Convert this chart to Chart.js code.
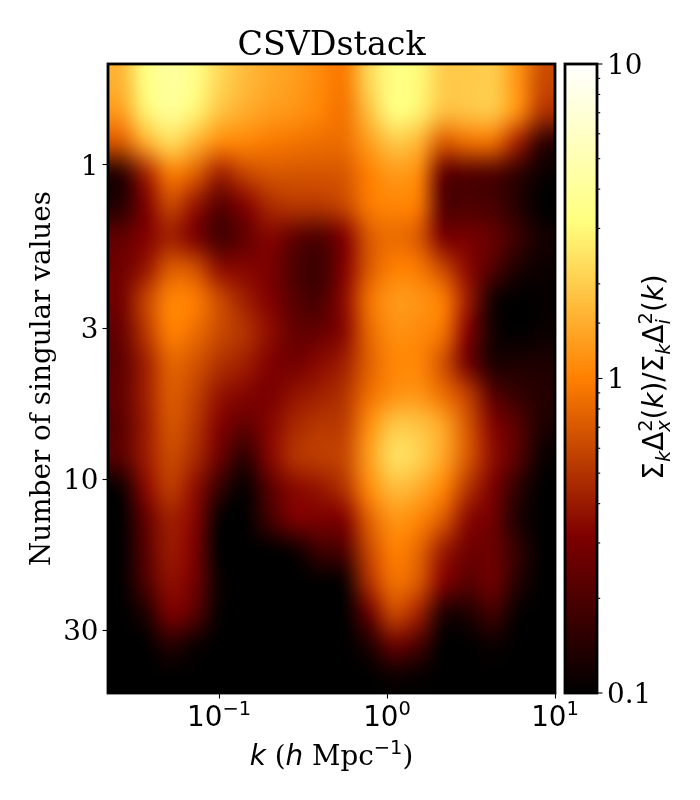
<!DOCTYPE html>
<html lang="en">
<head>
    <meta charset="UTF-8">
    <title>CSVDstack</title>
    <style>
        body { margin: 0; background: #fff; }
        .wrap { position: relative; width: 700px; height: 800px; }
        canvas { position: absolute; left: 0; top: 0; }
    </style>
</head>
<body>
    <div class="wrap">
        <canvas id="main" width="700" height="800"></canvas>
        <canvas id="bar" width="700" height="800"></canvas>
    </div>

    <script src="https://cdn.jsdelivr.net/npm/chart.js@4"></script>
    <script>
        const kMin = 0.0218;
        const kMax = 10;
        const kTicks = [0.1, 1, 10];
        const kTickExponents = ['−1', '0', '1'];
        const kCols = [0.0259, 0.0365, 0.0515, 0.0726, 0.1023, 0.1443, 0.2035, 0.287, 0.4046, 0.5705, 0.8044, 1.134, 1.599, 2.255, 3.179, 4.483, 6.321, 8.913];

        const rowCount = 20;
        const rowTicks = [3.21, 8.41, 13.21, 18.01];
        const rowTickLabels = ['1', '3', '10', '30'];

        const barLevels = [0.1, 0.316, 1, 3.16, 10];
        const barLabels = ['0.1', '1', '10'];

        // ratio, one row per line, top to bottom
        const ratios = [
            [1.6, 3.2, 4.2, 3.4, 2.2, 1.7, 1.45, 1.3, 1.1, 0.95, 2.2, 3.3, 3.0, 2.0, 1.95, 2.0, 1.2, 0.62],
            [1.3, 2.8, 3.9, 2.9, 1.85, 1.5, 1.3, 1.2, 1.05, 0.9, 1.8, 3.2, 2.8, 1.8, 1.85, 1.9, 1.15, 0.5],
            [0.7, 1.5, 2.3, 1.6, 1.1, 1.05, 0.95, 0.9, 0.85, 0.85, 1.3, 1.9, 1.6, 0.72, 0.85, 0.85, 0.42, 0.15],
            [0.14, 0.42, 0.95, 0.75, 0.42, 0.58, 0.68, 0.68, 0.68, 0.7, 1.0, 1.25, 1.1, 0.24, 0.21, 0.2, 0.15, 0.11],
            [0.14, 0.3, 0.6, 0.38, 0.22, 0.32, 0.46, 0.52, 0.52, 0.6, 0.95, 1.05, 0.95, 0.21, 0.2, 0.19, 0.14, 0.1],
            [0.24, 0.32, 0.42, 0.3, 0.18, 0.24, 0.33, 0.24, 0.2, 0.32, 0.7, 0.85, 0.7, 0.3, 0.29, 0.25, 0.17, 0.12],
            [0.27, 0.38, 0.72, 0.66, 0.36, 0.33, 0.3, 0.2, 0.17, 0.32, 0.7, 1.0, 0.95, 0.6, 0.34, 0.21, 0.13, 0.11],
            [0.28, 0.58, 1.05, 0.98, 0.62, 0.42, 0.32, 0.22, 0.19, 0.35, 0.88, 1.25, 1.2, 0.98, 0.4, 0.12, 0.1, 0.105],
            [0.25, 0.52, 1.0, 0.85, 0.62, 0.5, 0.36, 0.25, 0.25, 0.34, 0.8, 1.15, 1.1, 0.9, 0.32, 0.12, 0.1, 0.11],
            [0.23, 0.42, 0.78, 0.68, 0.5, 0.42, 0.32, 0.28, 0.34, 0.42, 0.75, 1.05, 1.05, 0.65, 0.27, 0.13, 0.13, 0.13],
            [0.24, 0.42, 0.72, 0.58, 0.38, 0.33, 0.3, 0.37, 0.42, 0.5, 0.85, 1.15, 1.2, 0.85, 0.55, 0.22, 0.16, 0.14],
            [0.22, 0.4, 0.68, 0.52, 0.32, 0.24, 0.33, 0.45, 0.52, 0.55, 1.15, 1.9, 1.85, 1.4, 0.68, 0.33, 0.22, 0.13],
            [0.22, 0.4, 0.62, 0.46, 0.26, 0.15, 0.33, 0.5, 0.55, 0.6, 1.3, 2.4, 2.1, 1.4, 0.7, 0.36, 0.22, 0.11],
            [0.11, 0.34, 0.55, 0.36, 0.16, 0.105, 0.22, 0.34, 0.38, 0.5, 1.1, 1.7, 1.5, 1.05, 0.5, 0.3, 0.15, 0.1],
            [0.1, 0.24, 0.42, 0.33, 0.105, 0.1, 0.18, 0.3, 0.3, 0.32, 0.75, 1.2, 1.05, 0.7, 0.34, 0.27, 0.13, 0.1],
            [0.1, 0.22, 0.4, 0.3, 0.1, 0.1, 0.1, 0.11, 0.17, 0.2, 0.6, 1.0, 0.8, 0.4, 0.27, 0.26, 0.16, 0.1],
            [0.1, 0.2, 0.36, 0.28, 0.11, 0.1, 0.1, 0.1, 0.1, 0.11, 0.48, 0.88, 0.7, 0.32, 0.22, 0.27, 0.14, 0.1],
            [0.1, 0.13, 0.3, 0.22, 0.105, 0.1, 0.1, 0.1, 0.1, 0.1, 0.25, 0.6, 0.42, 0.13, 0.13, 0.18, 0.105, 0.1],
            [0.1, 0.1, 0.14, 0.11, 0.1, 0.1, 0.1, 0.1, 0.1, 0.1, 0.13, 0.25, 0.19, 0.1, 0.1, 0.11, 0.1, 0.1],
            [0.1, 0.1, 0.1, 0.1, 0.1, 0.1, 0.1, 0.1, 0.1, 0.1, 0.1, 0.11, 0.105, 0.1, 0.1, 0.1, 0.1, 0.1]
        ];

        const SERIF = '"DejaVu Serif"';
        const SANS = '"DejaVu Sans"';
        const FS = 27.8;

        // afmhot on a log scale from 0.1 to 10
        function afmhot(value) {
            const v = Math.min(1, Math.max(0, (Math.log10(value) + 1) / 2));
            const c = x => Math.round(255 * Math.min(1, Math.max(0, x)));
            return `rgb(${c(2 * v)},${c(2 * v - 0.5)},${c(2 * v - 1)})`;
        }

        // mathtext-ish line: runs of text with their own font and lift.
        // a run with stack sits under the run before it instead of after it
        function drawRuns(ctx, runs, x, y) {
            const widths = runs.map(r => {
                ctx.font = r.font;
                return ctx.measureText(r.t).width;
            });
            let total = 0;
            runs.forEach((r, i) => {
                total += r.stack ? Math.max(0, widths[i] - widths[i - 1]) : widths[i];
            });
            let cx = x - total / 2;
            ctx.textAlign = 'left';
            ctx.textBaseline = 'alphabetic';
            ctx.fillStyle = '#000';
            runs.forEach((r, i) => {
                ctx.font = r.font;
                if (r.stack) {
                    ctx.fillText(r.t, cx - widths[i - 1], y - (r.up || 0));
                    cx += Math.max(0, widths[i] - widths[i - 1]);
                } else {
                    ctx.fillText(r.t, cx, y - (r.up || 0));
                    cx += widths[i];
                }
            });
        }

        const serif = t => ({ t, font: `${FS}px ${SERIF}` });
        const sans = t => ({ t, font: `${FS}px ${SANS}` });
        const ital = t => ({ t, font: `italic ${FS}px ${SANS}` });
        const sup = t => ({ t, font: `${FS * 0.7}px ${SANS}`, up: 11.5 });
        const sub = t => ({ t, font: `italic ${FS * 0.7}px ${SANS}`, up: -6.5 });

        const heatmap = {
            id: 'heatmap',
            beforeDatasetsDraw(chart) {
                const { ctx, chartArea, scales } = chart;
                const off = document.createElement('canvas');
                off.width = kCols.length;
                off.height = rowCount;
                const o = off.getContext('2d');
                chart.data.datasets[0].data.forEach(cell => {
                    o.fillStyle = afmhot(cell.v);
                    o.fillRect(cell.col, cell.row, 1, 1);
                });
                const left = scales.x.getPixelForValue(kMin);
                const right = scales.x.getPixelForValue(kMax);
                const top = scales.y.getPixelForValue(0);
                const bottom = scales.y.getPixelForValue(rowCount);
                ctx.save();
                ctx.imageSmoothingEnabled = true;
                ctx.imageSmoothingQuality = 'high';
                ctx.drawImage(off, left, top, right - left, bottom - top);
                ctx.lineWidth = 2.8;
                ctx.strokeStyle = '#000';
                ctx.strokeRect(chartArea.left, chartArea.top, chartArea.width, chartArea.height);
                ctx.restore();
            },
            afterDraw(chart) {
                const { ctx, scales } = chart;
                ctx.save();
                kTicks.forEach((k, i) => {
                    const px = scales.x.getPixelForValue(k);
                    drawRuns(ctx, [sans('10'), { t: kTickExponents[i], font: `${FS * 0.7}px ${SANS}`, up: 11 }], px, 726);
                });
                drawRuns(ctx, [ital('k'), serif(' ('), ital('h'), serif(' Mpc'), sup('−1'), serif(')')], 331.5, 765);
                ctx.restore();
            }
        };

        const cells = ratios.flatMap((line, row) => line.map((v, col) => ({ x: kCols[col], y: row + 0.5, v, col, row })));

        new Chart(document.getElementById('main'), {
            type: 'scatter',
            data: { datasets: [{ data: cells, pointRadius: 0, showLine: false }] },
            plugins: [heatmap],
            options: {
                responsive: false,
                animation: false,
                events: [],
                layout: { padding: { right: 145 } },
                plugins: {
                    legend: { display: false },
                    tooltip: { enabled: false },
                    title: {
                        display: true,
                        text: 'CSVDstack',
                        color: '#000',
                        fullSize: false,
                        font: { family: SERIF, size: 33.3, weight: 'normal', lineHeight: 0.9 },
                        padding: { top: 31.5, bottom: 2.5 }
                    }
                },
                scales: {
                    x: {
                        type: 'logarithmic',
                        min: kMin,
                        max: kMax,
                        afterFit: s => { s.height = 107; },
                        afterBuildTicks: s => { s.ticks = kTicks.map(value => ({ value, major: true })); },
                        border: { display: false },
                        grid: { drawOnChartArea: false, tickLength: 5.5, tickWidth: 1.1, tickColor: '#000' },
                        ticks: { display: false, autoSkip: false }
                    },
                    y: {
                        type: 'linear',
                        min: 0,
                        max: rowCount,
                        reverse: true,
                        afterFit: s => { s.width = 108; },
                        afterBuildTicks: s => { s.ticks = rowTicks.map(value => ({ value })); },
                        border: { display: false },
                        grid: { drawOnChartArea: false, tickLength: 5.5, tickWidth: 1.1, tickColor: '#000' },
                        ticks: {
                            autoSkip: false,
                            padding: 4,
                            labelOffset: 2.5,
                            color: '#000',
                            font: { family: SERIF, size: FS },
                            callback: (v, i) => rowTickLabels[i]
                        },
                        title: {
                            display: true,
                            text: 'Number of singular values',
                            color: '#000',
                            font: { family: SERIF, size: FS, lineHeight: 1 },
                            padding: { top: 29, bottom: 0 }
                        }
                    }
                }
            }
        });

        const colorbar = {
            id: 'colorbar',
            beforeDatasetsDraw(chart) {
                const { ctx, chartArea, scales } = chart;
                const y = scales.y;
                const grad = ctx.createLinearGradient(0, y.getPixelForValue(barLevels[0]), 0, y.getPixelForValue(barLevels[barLevels.length - 1]));
                barLevels.forEach((v, i) => grad.addColorStop(i / (barLevels.length - 1), afmhot(v)));
                ctx.save();
                ctx.fillStyle = grad;
                ctx.fillRect(chartArea.left, chartArea.top, chartArea.width, chartArea.height);
                ctx.lineWidth = 2.8;
                ctx.strokeStyle = '#000';
                ctx.strokeRect(chartArea.left, chartArea.top, chartArea.width, chartArea.height);
                ctx.lineWidth = 1.1;
                y.ticks.forEach(t => {
                    const py = y.getPixelForValue(t.value);
                    const major = Math.abs(Math.log10(t.value) % 1) < 1e-6;
                    ctx.beginPath();
                    ctx.moveTo(chartArea.right, py);
                    ctx.lineTo(chartArea.right + (major ? 5.5 : 3.2), py);
                    ctx.stroke();
                });
                ctx.restore();
            },
            afterDraw(chart) {
                const { ctx } = chart;
                ctx.save();
                ctx.translate(663, 377);
                ctx.rotate(-Math.PI / 2);
                drawRuns(ctx, [
                    sans('Σ'), sub('k'), sans('Δ'), sup('2'), { ...sub('x'), stack: true }, sans('('), ital('k'), sans(')/'),
                    sans('Σ'), sub('k'), sans('Δ'), sup('2'), { ...sub('i'), stack: true }, sans('('), ital('k'), sans(')')
                ], 0, 0);
                ctx.restore();
            }
        };

        new Chart(document.getElementById('bar'), {
            type: 'scatter',
            data: { datasets: [{ data: [], pointRadius: 0 }] },
            plugins: [colorbar],
            options: {
                responsive: false,
                animation: false,
                events: [],
                layout: { padding: { left: 565, top: 64 } },
                plugins: { legend: { display: false }, tooltip: { enabled: false } },
                scales: {
                    x: { display: false, afterFit: s => { s.height = 107; } },
                    y: {
                        type: 'logarithmic',
                        position: 'right',
                        min: 0.1,
                        max: 10,
                        afterFit: s => { s.width = 103; },
                        border: { display: false },
                        grid: { drawOnChartArea: false, drawTicks: false },
                        ticks: {
                            autoSkip: false,
                            padding: 10,
                            labelOffset: 2.5,
                            color: '#000',
                            font: { family: SERIF, size: FS },
                            callback: v => {
                                const e = Math.log10(v);
                                return Math.abs(e - Math.round(e)) < 1e-6 ? barLabels[Math.round(e) + 1] : '';
                            }
                        }
                    }
                }
            }
        });
    </script>
</body>
</html>
